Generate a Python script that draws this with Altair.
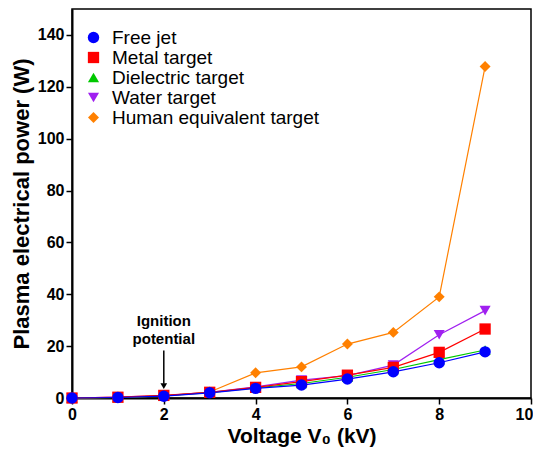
import altair as alt
import pandas as pd

voltage = [0, 1, 2, 3, 4, 5, 6, 7, 8, 9]
free_jet = [0.0, 0.2, 0.7, 2.0, 3.7, 5.0, 7.3, 10.1, 13.6, 17.8]
metal = [0.0, 0.3, 1.0, 2.2, 4.1, 6.3, 8.8, 11.8, 17.6, 26.6]
dielectric = [0.0, 0.2, 0.8, 2.1, 3.9, 5.6, 8.0, 11.0, 14.8, 18.5]
water = [0.0, 0.3, 0.9, 2.2, 4.3, 6.9, 8.6, 12.7, 24.4, 33.7]
human = [0.0, 0.2, 0.8, 2.3, 9.7, 12.0, 20.8, 25.3, 39.0, 127.8]

series_names = ["Free jet", "Metal target", "Dielectric target", "Water target",
                "Human equivalent target"]
series_values = [free_jet, metal, dielectric, water, human]
colors = ["#0000FF", "#FF0000", "#00C800", "#A020F0", "#FF8000"]
shapes = ["circle", "square", "triangle-up", "triangle-down", "diamond"]
sizes = [130, 120, 90, 130, 100]

draw_order = [4, 3, 2, 1, 0]
rows = []
for i in draw_order:
    for v, p in zip(voltage, series_values[i]):
        rows.append({"voltage": v, "power": p, "series": series_names[i], "order": draw_order.index(i)})
df = pd.DataFrame(rows)

annot_text = ["Ignition", "potential"]
annot_y = [27.7, 20.8]
annot_df = pd.DataFrame({"x": [2, 2], "y": annot_y, "text": annot_text})
arrow_df = pd.DataFrame({"x": [2], "y": [18.3], "y2": [5.5], "tip": [4.6]})

FONT = "Liberation Sans"

x_enc = alt.X("voltage:Q",
              scale=alt.Scale(domain=[0, 10], nice=False),
              axis=alt.Axis(values=[0, 2, 4, 6, 8, 10], title="Voltage V\u2080 (kV)",
                            tickSize=6, labelPadding=2, titlePadding=3, labelFlush=False,
                            labelOffset={"condition": {"test": "datum.value === 10", "value": -7}, "value": 0}))
y_enc = alt.Y("power:Q",
              scale=alt.Scale(domain=[0, 150], nice=False),
              axis=alt.Axis(values=list(range(0, 150, 10)),
                            labelExpr="datum.value % 20 === 0 ? datum.label : ''",
                            tickSize={"condition": {"test": "datum.value % 20 !== 0", "value": 3}, "value": 6},
                            title="Plasma electrical power (W)", labelFlush=False,
                            labelPadding=2, titlePadding=4))

legend = alt.Legend(title=None, orient="none", legendX=12, legendY=19, padding=0,
                    rowPadding=0, labelOffset=9, symbolSize=100, symbolStrokeWidth=0,
                    labelLimit=0,
                    labelFont=FONT, labelFontSize=19, labelColor="black")

color = alt.Color("series:N", scale=alt.Scale(domain=series_names, range=colors), legend=legend)
shape = alt.Shape("series:N", scale=alt.Scale(domain=series_names, range=shapes), legend=legend)
size = alt.Size("series:N", scale=alt.Scale(domain=series_names, range=sizes), legend=None)

base = alt.Chart(df)
lines = base.mark_line(strokeWidth=1.2).encode(x=x_enc, y=y_enc, color=color, detail="series:N")
points = base.mark_point(filled=True, opacity=1).encode(
    x=x_enc, y=y_enc, color=color, shape=shape, size=size,
    order=alt.Order("order:Q"))

ann = alt.Chart(annot_df).mark_text(font=FONT, fontWeight="bold", fontSize=15,
                                    baseline="alphabetic", align="center", color="black").encode(
    x="x:Q", y="y:Q", text="text:N")
arrow = alt.Chart(arrow_df).mark_rule(color="black", strokeWidth=1.5).encode(
    x="x:Q", y="y:Q", y2="y2:Q")
head = alt.Chart(arrow_df).mark_point(shape="triangle-down", filled=True, color="black",
                                      size=45, opacity=1).encode(x="x:Q", y="tip:Q")

chart = alt.layer(lines, points, ann, arrow, head).properties(
    width=459, height=389,
    autosize=alt.AutoSizeParams(type="none"),
    padding={"left": 64, "top": 1, "right": 2, "bottom": 50},
    background="white",
).configure_axis(
    labelFont=FONT, labelFontWeight="bold", labelFontSize=16, labelColor="black",
    titleFont=FONT, titleFontWeight="bold", titleFontSize=22, titleColor="black",
    domainColor="black", domainWidth=2, tickColor="black", tickWidth=1.5, grid=False,
).configure_axisX(titleFontSize=21).configure_view(stroke="black", strokeWidth=1.5)

chart.save("out.html", embed_options={"renderer": "svg", "actions": False})
